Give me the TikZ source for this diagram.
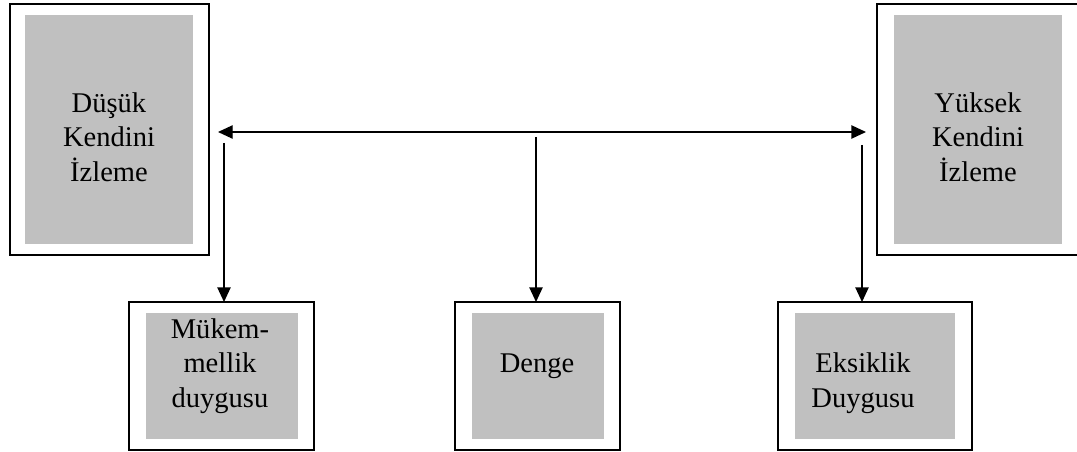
\documentclass[tikz,border=0pt]{standalone}
\usepackage{fontspec}
\setmainfont{Liberation Serif}
\usetikzlibrary{arrows.meta}
\definecolor{panelgray}{HTML}{C0C0C0}
\begin{document}
\begin{tikzpicture}[x=0.75pt,y=-0.75pt,
  frame/.style={draw=black,line width=1.3pt,fill=white,rectangle,inner sep=0pt,outer sep=0pt},
  panel/.style={fill=panelgray,rectangle,inner sep=0pt,outer sep=0pt},
  label/.style={align=center,inner sep=0pt,font=\fontsize{21.4pt}{25.8pt}\selectfont},
  link/.style={draw=black,line width=1pt,-{Triangle[length=11pt,width=10pt]}},
  biglink/.style={draw=black,line width=1pt,{Triangle[length=11pt,width=10pt]}-{Triangle[length=11pt,width=10pt]}}]
  \clip (0,0) rectangle (1077,452);
  \fill[white] (0,0) rectangle (1077,452);

  % upper panels: low and high self-monitoring
  \node[frame,minimum width=149.25pt,minimum height=188.25pt] (low) at (109.5,129.5) {};
  \node[panel,minimum width=126pt,minimum height=171.75pt] (lowin) at (109,129.5) {};
  \node[label] (lowtxt) at (109,137) {Düşük\\Kendini\\İzleme};

  \node[frame,minimum width=152.25pt,minimum height=188.25pt] (high) at (978.5,129.5) {};
  \node[panel,minimum width=126pt,minimum height=171.75pt] (highin) at (978,129.5) {};
  \node[label] (hightxt) at (978,137) {Yüksek\\Kendini\\İzleme};

  % lower panels: outcomes
  \node[frame,minimum width=138.75pt,minimum height=111pt] (perf) at (221.5,376) {};
  \node[panel,minimum width=114pt,minimum height=94.5pt] (perfin) at (222,376) {};
  \node[label] (perftxt) at (220,366) {Mükem-\\mellik\\duygusu};

  \node[frame,minimum width=123.75pt,minimum height=111pt] (bal) at (537.5,376) {};
  \node[panel,minimum width=99pt,minimum height=94.5pt] (balin) at (538,376) {};
  \node[label] (baltxt) at (537,366.5) {Denge};

  \node[frame,minimum width=145.5pt,minimum height=111pt] (lack) at (875,376) {};
  \node[panel,minimum width=120pt,minimum height=94.5pt] (lackin) at (875,376) {};
  \node[label] (lacktxt) at (863,383) {Eksiklik\\Duygusu};

  % connector ends
  \coordinate (hl) at (218,132);
  \coordinate (hr) at (866,132);
  \coordinate (sl) at (224,143);
  \coordinate (sc) at (536,137);
  \coordinate (sr) at (862,145);

  % two-headed scale between the extremes
  \draw[biglink] (hl) -- (hr);
  % drops to each outcome
  \draw[link] (sl) -- (sl |- perf.north);
  \draw[link] (sc) -- (sc |- bal.north);
  \draw[link] (sr) -- (sr |- lack.north);
\end{tikzpicture}
\end{document}
